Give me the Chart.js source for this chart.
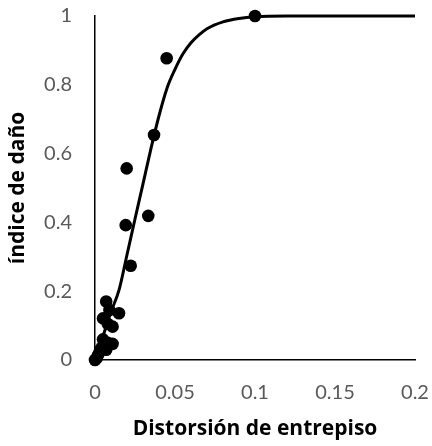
<!DOCTYPE html>
<html>
<head>
<meta charset="utf-8">
<script src="https://cdn.jsdelivr.net/npm/chart.js@4/dist/chart.umd.min.js"></script>
<style>
  html, body { margin: 0; padding: 0; background: #fff; }
  #wrap { width: 432px; height: 446px; position: relative; }
</style>
</head>
<body>
<div id="wrap"><canvas id="c" width="432" height="446"></canvas></div>
<script>
// Observed data points (Distorsión de entrepiso, índice de daño)
const obsX = [0.000, 0.001, 0.002, 0.003, 0.004, 0.006, 0.008, 0.011, 0.005, 0.007,
              0.005, 0.007, 0.009, 0.011, 0.015, 0.008,
              0.0192, 0.0198, 0.0223, 0.0333, 0.0369, 0.0448, 0.100];
const obsY = [0.000, 0.005, 0.015, 0.025, 0.035, 0.045, 0.050, 0.047, 0.060, 0.030,
              0.121, 0.170, 0.145, 0.097, 0.136, 0.105,
              0.392, 0.557, 0.274, 0.419, 0.654, 0.877, 1.000];

// Fitted curve
const curveX = [0, 0.005, 0.010, 0.015, 0.020, 0.025, 0.030, 0.035, 0.040, 0.045,
                0.050, 0.055, 0.060, 0.065, 0.070, 0.080, 0.090, 0.100, 0.120, 0.150, 0.200];
const curveY = [0.01, 0.07, 0.14, 0.203, 0.306, 0.41, 0.512, 0.615, 0.71, 0.79,
                0.845, 0.89, 0.922, 0.945, 0.963, 0.983, 0.993, 0.998, 1.0, 1.0, 1.0];

// Axis ticks
const xTicks = [0, 0.05, 0.1, 0.15, 0.2];
const yTicks = [0, 0.2, 0.4, 0.6, 0.8, 1];
const xTitle = 'Distorsión de entrepiso';
const yTitle = 'índice de daño';

const obsData = obsX.map((x, i) => ({ x: x, y: obsY[i] }));
const curveData = curveX.map((x, i) => ({ x: x, y: curveY[i] }));

const tickFont = { family: 'Lato', size: 20 };
const titleFont = { family: 'Open Sans', size: 21, weight: 'bold' };

new Chart(document.getElementById('c'), {
  type: 'scatter',
  data: {
    datasets: [
      {
        label: 'curve',
        data: curveData,
        showLine: true,
        borderColor: '#000',
        borderWidth: 3,
        pointRadius: 0,
        pointHoverRadius: 0,
        cubicInterpolationMode: 'monotone',
        fill: false,
        clip: false
      },
      {
        label: 'obs',
        data: obsData,
        backgroundColor: '#000',
        borderColor: '#000',
        pointRadius: 6.3,
        pointBorderWidth: 0,
        showLine: false,
        clip: false
      }
    ]
  },
  options: {
    responsive: false,
    animation: false,
    devicePixelRatio: 1,
    layout: { padding: 0 },
    plugins: { legend: { display: false }, tooltip: { enabled: false } },
    scales: {
      x: {
        type: 'linear',
        min: 0, max: 0.2,
        afterBuildTicks: (s) => { s.ticks = xTicks.map(v => ({ value: v })); },
        afterFit: (s) => {
          s.height = 86;
          s.paddingLeft = 0; s.paddingRight = 17;
          s.paddingTop = 0; s.paddingBottom = 0;
        },
        grid: { display: false, drawTicks: false },
        border: { display: true, color: '#000', width: 1.5 },
        ticks: {
          color: '#595959', font: tickFont, padding: 21, maxRotation: 0,
          callback: (v) => String(v)
        },
        title: {
          display: true, text: xTitle, color: '#000', font: titleFont,
          padding: { top: 0, bottom: 4 }
        }
      },
      y: {
        type: 'linear',
        min: 0, max: 1,
        afterBuildTicks: (s) => { s.ticks = yTicks.map(v => ({ value: v })); },
        afterFit: (s) => {
          s.width = 95;
          s.paddingTop = 16; s.paddingBottom = 0;
          s.paddingLeft = 0; s.paddingRight = 0;
        },
        grid: { display: false, drawTicks: false },
        border: { display: true, color: '#000', width: 1.5 },
        ticks: {
          color: '#595959', font: tickFont, padding: 23,
          callback: (v) => String(v)
        },
        title: {
          display: true, text: yTitle, color: '#000', font: titleFont,
          padding: { top: 5, bottom: 0 }
        }
      }
    }
  }
});
</script>
</body>
</html>
